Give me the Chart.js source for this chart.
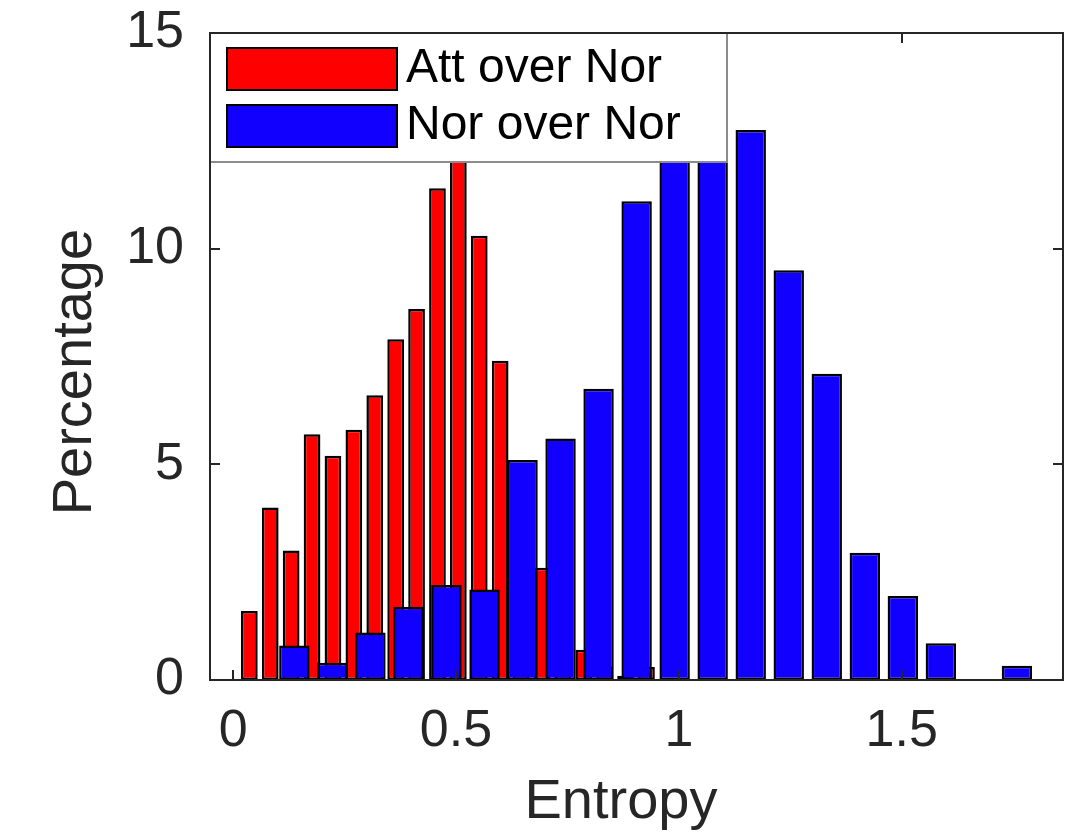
<!DOCTYPE html>
<html>
<head>
<meta charset="utf-8">
<title>Entropy histogram</title>
<script src="https://cdn.jsdelivr.net/npm/chart.js@4.4.1/dist/chart.umd.min.js"></script>
<style>
  html, body { margin: 0; padding: 0; background: #fff; }
  #wrap { width: 1086px; height: 839px; }
</style>
</head>
<body>
<div id="wrap"><canvas id="myChart" width="1086" height="839"></canvas></div>
<script>
// bin centres (Entropy) and heights (Percentage)
const redCenters = [0.0363, 0.0832, 0.1301, 0.1770, 0.2239, 0.2708, 0.3177, 0.3646, 0.4115, 0.4584,
  0.5053, 0.5522, 0.5991, 0.6460, 0.6929, 0.7398, 0.7867, 0.8336, 0.8805, 0.9274];
const redValues = [1.6, 4.0, 3.0, 5.7, 5.2, 5.8, 6.6, 7.9, 8.6, 11.4,
  12.3, 10.3, 7.4, 4.5, 2.6, 1.5, 0.7, 0.3, 0.1, 0.3];

const blueCenters = [0.1373, 0.2226, 0.3080, 0.3933, 0.4786, 0.5640, 0.6493, 0.7346, 0.8199, 0.9053,
  0.9906, 1.0759, 1.1613, 1.2466, 1.3319, 1.4173, 1.5026, 1.5879, 1.6732, 1.7586];
const blueValues = [0.8, 0.4, 1.1, 1.7, 2.2, 2.1, 5.1, 5.6, 6.75, 11.1,
  13.6, 14.1, 12.75, 9.5, 7.1, 2.95, 1.95, 0.85, 0, 0.33];

const xTicks = [0, 0.5, 1, 1.5];
const yTicks = [0, 5, 10, 15];

const FONT = "'Liberation Sans', Arial, Helvetica, sans-serif";
const AXIS = "#262626";

const toPoints = (xs, ys) => xs.map((x, i) => ({ x: x, y: ys[i] }));
const setTicks = list => scale => { scale.ticks = list.map(v => ({ value: v })); };

// axes box with inward ticks + matlab style legend on top
const frame = {
  id: "frame",
  afterDatasetsDraw(chart) {
    const { ctx, chartArea: a, scales } = chart;
    ctx.save();
    ctx.strokeStyle = AXIS;
    ctx.lineWidth = 2;
    ctx.beginPath();
    xTicks.forEach(v => {
      const px = Math.round(scales.x.getPixelForValue(v));
      ctx.moveTo(px, a.bottom); ctx.lineTo(px, a.bottom - 10);
      ctx.moveTo(px, a.top); ctx.lineTo(px, a.top + 10);
    });
    yTicks.forEach(v => {
      const py = Math.round(scales.y.getPixelForValue(v));
      ctx.moveTo(a.left, py); ctx.lineTo(a.left + 10, py);
      ctx.moveTo(a.right, py); ctx.lineTo(a.right - 10, py);
    });
    ctx.stroke();

    // legend
    const lx = a.left, ly = a.top, lw = 517, lh = 129;
    ctx.fillStyle = "#fff";
    ctx.fillRect(lx, ly, lw, lh);
    ctx.strokeStyle = "#8c8c8c";
    ctx.strokeRect(lx, ly, lw, lh);
    ctx.font = "48px " + FONT;
    ctx.textBaseline = "middle";
    chart.data.datasets.forEach((ds, i) => {
      const sy = ly + 15 + i * 57;
      ctx.fillStyle = ds.backgroundColor;
      ctx.fillRect(lx + 17, sy, 170, 42);
      ctx.strokeStyle = "#000";
      ctx.strokeRect(lx + 17, sy, 170, 42);
      ctx.fillStyle = "#000";
      ctx.fillText(ds.label, lx + 196, sy + 21);
    });

    ctx.strokeStyle = AXIS;
    ctx.strokeRect(a.left, a.top, a.right - a.left, a.bottom - a.top);
    ctx.restore();
  }
};

const ctx = document.getElementById("myChart");

new Chart(ctx, {
  type: "bar",
  data: {
    datasets: [
      {
        label: "Att over Nor",
        data: toPoints(redCenters, redValues),
        backgroundColor: "#ff0000",
        borderColor: "#000",
        borderWidth: 2.5,
        borderSkipped: false,
        barPercentage: 0.8,
        categoryPercentage: 1,
        grouped: false,
        xAxisID: "x",
        order: 2,
      },
      {
        label: "Nor over Nor",
        data: toPoints(blueCenters, blueValues),
        backgroundColor: "#1200ff",
        borderColor: "#000",
        borderWidth: 2.5,
        borderSkipped: false,
        barPercentage: 0.8,
        categoryPercentage: 1,
        grouped: false,
        xAxisID: "x2",
        order: 1,
      },
    ],
  },
  options: {
    responsive: false,
    animation: false,
    devicePixelRatio: 1,
    layout: { padding: { top: 33, right: 23, left: 0, bottom: 0 } },
    plugins: {
      legend: { display: false },
      tooltip: { enabled: false },
    },
    scales: {
      x: {
        type: "linear",
        position: "bottom",
        offset: false,
        min: -0.052,
        max: 1.862,
        afterBuildTicks: setTicks(xTicks),
        afterFit: s => { s.height = 159; s.paddingLeft = 0; s.paddingRight = 0; },
        grid: { display: false, drawTicks: false, offset: false },
        border: { display: false },
        ticks: {
          color: AXIS,
          padding: 20,
          maxRotation: 0,
          font: { family: FONT, size: 52 },
          callback: v => String(v),
        },
        title: {
          display: true,
          text: "Entropy  ",
          color: AXIS,
          padding: { top: 0, bottom: 3 },
          font: { family: FONT, size: 56 },
        },
      },
      x2: {
        type: "linear",
        position: "bottom",
        display: false,
        offset: false,
        min: -0.052,
        max: 1.862,
        afterBuildTicks: setTicks(xTicks),
        grid: { offset: false },
      },
      y: {
        min: 0,
        max: 15,
        afterBuildTicks: setTicks(yTicks),
        afterFit: s => { s.width = 210; s.paddingTop = 0; s.paddingBottom = 0; },
        grid: { display: false, drawTicks: false },
        border: { display: false },
        ticks: {
          color: AXIS,
          padding: 26,
          font: { family: FONT, size: 52 },
          callback: v => String(v),
        },
        title: {
          display: true,
          text: "Percentage  ",
          color: AXIS,
          padding: { top: 42, bottom: 0 },
          font: { family: FONT, size: 56 },
        },
      },
    },
  },
  plugins: [frame],
});
</script>
</body>
</html>
